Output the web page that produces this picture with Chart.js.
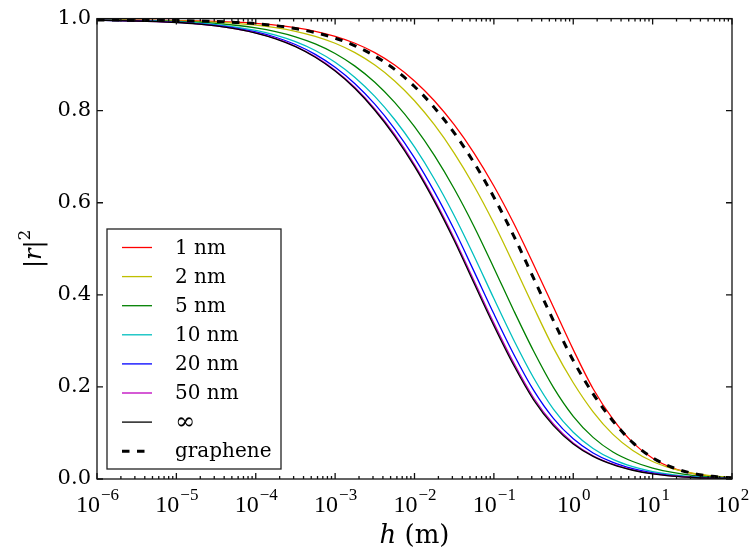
<!DOCTYPE html>
<html>
<head>
<meta charset="utf-8">
<script src="https://cdn.jsdelivr.net/npm/chart.js@4/dist/chart.umd.min.js"></script>
<style>
  html, body { margin: 0; padding: 0; background: #fff; }
  #c { display: block; }
</style>
</head>
<body>
<canvas id="c" width="751" height="551"></canvas>
<script>
// log10(h) sample positions (h in m), quarter decades
const logH = [-6, -5.75, -5.5, -5.25, -5, -4.75, -4.5, -4.25, -4, -3.75, -3.5, -3.25, -3, -2.75, -2.5, -2.25,
  -2, -1.75, -1.5, -1.25, -1, -0.75, -0.5, -0.25, 0, 0.25, 0.5, 0.75, 1, 1.25, 1.5, 1.75, 2];

// |r|^2
const r1nm = [0.9971, 0.9969, 0.9966, 0.9963, 0.9958, 0.9952, 0.9941, 0.9924, 0.9898, 0.9860, 0.9804, 0.9725, 0.9615, 0.9465, 0.9261, 0.8992,
  0.8647, 0.8217, 0.7696, 0.7080, 0.6364, 0.5554, 0.4659, 0.3735, 0.2810, 0.1960, 0.1300, 0.0790, 0.0450, 0.0240, 0.0120, 0.0055, 0.0022];
const r2nm = [0.9969, 0.9966, 0.9963, 0.9958, 0.9952, 0.9941, 0.9924, 0.9898, 0.9860, 0.9804, 0.9725, 0.9615, 0.9465, 0.9261, 0.8992, 0.8647,
  0.8217, 0.7696, 0.7080, 0.6364, 0.5554, 0.4659, 0.3735, 0.2848, 0.2090, 0.1460, 0.0970, 0.0620, 0.0380, 0.0225, 0.0125, 0.0067, 0.0035];
const r5nm = [0.9966, 0.9962, 0.9958, 0.9951, 0.9940, 0.9922, 0.9896, 0.9856, 0.9798, 0.9717, 0.9605, 0.9451, 0.9243, 0.8968, 0.8617, 0.8179,
  0.7652, 0.7028, 0.6304, 0.5486, 0.4585, 0.3661, 0.2780, 0.1990, 0.1362, 0.0904, 0.0587, 0.0380, 0.0238, 0.0142, 0.0080, 0.0043, 0.0023];
const r10nm = [0.9964, 0.9959, 0.9953, 0.9943, 0.9928, 0.9904, 0.9869, 0.9817, 0.9743, 0.9640, 0.9499, 0.9307, 0.9052, 0.8723, 0.8311, 0.7808,
  0.7212, 0.6516, 0.5724, 0.4845, 0.3919, 0.3020, 0.2200, 0.1518, 0.1016, 0.0663, 0.0425, 0.0267, 0.0161, 0.0093, 0.0052, 0.0027, 0.0014];
const r20nm = [0.9962, 0.9957, 0.9950, 0.9939, 0.9921, 0.9893, 0.9853, 0.9793, 0.9710, 0.9595, 0.9438, 0.9224, 0.8944, 0.8586, 0.8142, 0.7607,
  0.6975, 0.6243, 0.5418, 0.4510, 0.3588, 0.2711, 0.1930, 0.1317, 0.0872, 0.0566, 0.0360, 0.0224, 0.0132, 0.0075, 0.0041, 0.0021, 0.0011];
const r50nm = [0.9961, 0.9956, 0.9948, 0.9936, 0.9916, 0.9887, 0.9843, 0.9779, 0.9690, 0.9568, 0.9400, 0.9174, 0.8878, 0.8503, 0.8038, 0.7484,
  0.6830, 0.6076, 0.5231, 0.4306, 0.3385, 0.2522, 0.1765, 0.1194, 0.0784, 0.0506, 0.0321, 0.0197, 0.0115, 0.0065, 0.0035, 0.0018, 0.0009];
const rInf = [0.9961, 0.9956, 0.9948, 0.9935, 0.9915, 0.9885, 0.9840, 0.9775, 0.9685, 0.9560, 0.9390, 0.9160, 0.8860, 0.8480, 0.8010, 0.7450,
  0.6790, 0.6030, 0.5180, 0.4250, 0.3330, 0.2470, 0.1720, 0.1160, 0.0760, 0.0490, 0.0310, 0.0190, 0.0110, 0.0062, 0.0033, 0.0017, 0.0009];
const rGraphene = [0.9970, 0.9968, 0.9965, 0.9961, 0.9957, 0.9949, 0.9937, 0.9917, 0.9889, 0.9845, 0.9783, 0.9696, 0.9575, 0.9410, 0.9188, 0.8896,
  0.8526, 0.8066, 0.7517, 0.6869, 0.6121, 0.5282, 0.4362, 0.3440, 0.2573, 0.1850, 0.1260, 0.0790, 0.0460, 0.0250, 0.0125, 0.0058, 0.0025];

const seriesNames = ['1 nm', '2 nm', '5 nm', '10 nm', '20 nm', '50 nm', '\u221e', 'graphene'];
const seriesData = [r1nm, r2nm, r5nm, r10nm, r20nm, r50nm, rInf, rGraphene];
const seriesColors = ['#ff0000', '#bfbf00', '#008000', '#00bfbf', '#0000ff', '#bf00bf', '#000000', '#000000'];

const xDecades = [-6, -5, -4, -3, -2, -1, 0, 1, 2];
const yTicks = [0, 0.2, 0.4, 0.6, 0.8, 1.0];

const SERIF = '"DejaVu Serif", serif';
const MATH = '"Liberation Serif", serif';

const datasets = seriesData.map((vals, i) => {
  const dashed = seriesNames[i] === 'graphene';
  return {
    label: seriesNames[i],
    data: logH.map((L, j) => ({ x: Math.pow(10, L), y: vals[j] })),
    borderColor: seriesColors[i],
    borderWidth: dashed ? 3 : 1.3,
    borderDash: dashed ? [7.5, 7.5] : [],
    borderCapStyle: 'butt',
    pointRadius: 0,
    fill: false,
    cubicInterpolationMode: 'monotone',
    order: seriesData.length - i   // later series on top, like the original
  };
});

// frame, inward ticks, x tick labels, axis titles and legend
const decorations = {
  id: 'decorations',
  afterDraw(chart) {
    const ctx = chart.ctx, a = chart.chartArea;
    const sx = chart.scales.x, sy = chart.scales.y;
    ctx.save();
    ctx.strokeStyle = '#111'; ctx.lineWidth = 1.3; ctx.setLineDash([]);
    ctx.strokeRect(a.left, a.top, a.right - a.left, a.bottom - a.top);

    // x ticks (major + minor), top and bottom; y ticks left and right
    ctx.beginPath();
    xDecades.forEach(d => {
      const px = sx.getPixelForValue(Math.pow(10, d));
      ctx.moveTo(px, a.bottom); ctx.lineTo(px, a.bottom - 6);
      ctx.moveTo(px, a.top); ctx.lineTo(px, a.top + 6);
      if (d < 2) {
        for (let k = 2; k < 10; k++) {
          const pm = sx.getPixelForValue(k * Math.pow(10, d));
          ctx.moveTo(pm, a.bottom); ctx.lineTo(pm, a.bottom - 3);
          ctx.moveTo(pm, a.top); ctx.lineTo(pm, a.top + 3);
        }
      }
    });
    yTicks.forEach(v => {
      const py = sy.getPixelForValue(v);
      ctx.moveTo(a.left, py); ctx.lineTo(a.left + 6, py);
      ctx.moveTo(a.right, py); ctx.lineTo(a.right - 6, py);
    });
    ctx.stroke();

    // x tick labels 10^n
    ctx.fillStyle = '#000'; ctx.textBaseline = 'alphabetic'; ctx.textAlign = 'left';
    xDecades.forEach(d => {
      const px = sx.getPixelForValue(Math.pow(10, d));
      const exp = (d < 0 ? '\u2212' : '') + Math.abs(d);
      ctx.font = '24px ' + MATH; const wb = ctx.measureText('10').width;
      ctx.font = '17px ' + MATH; const we = ctx.measureText(exp).width;
      const x0 = px - (wb + we) / 2;
      ctx.font = '24px ' + MATH; ctx.fillText('10', x0, 512);
      ctx.font = '17px ' + MATH; ctx.fillText(exp, x0 + wb + 1, 500);
    });

    // x title: h (m)
    ctx.font = 'italic 26px ' + SERIF; const wh = ctx.measureText('h').width;
    ctx.font = '26px ' + SERIF; const wm = ctx.measureText(' (m)').width;
    const cx = (a.left + a.right) / 2, tx = cx - (wh + wm) / 2;
    ctx.font = 'italic 26px ' + SERIF; ctx.fillText('h', tx, 543);
    ctx.font = '26px ' + SERIF; ctx.fillText(' (m)', tx + wh, 543);

    // y title: |r|^2
    ctx.save();
    ctx.translate(41, (a.top + a.bottom) / 2); ctx.rotate(-Math.PI / 2);
    ctx.font = '24px ' + SERIF; const wbar = ctx.measureText('|').width;
    ctx.font = 'italic 24px ' + SERIF; const wr = ctx.measureText('r').width;
    ctx.font = '17px ' + SERIF; const w2 = ctx.measureText('2').width;
    let ux = -(2 * wbar + wr + w2) / 2;
    ctx.font = '24px ' + SERIF; ctx.fillText('|', ux, 0); ux += wbar;
    ctx.font = 'italic 24px ' + SERIF; ctx.fillText('r', ux, 0); ux += wr;
    ctx.font = '24px ' + SERIF; ctx.fillText('|', ux, 0); ux += wbar;
    ctx.font = '17px ' + SERIF; ctx.fillText('2', ux, -11);
    ctx.restore();

    // legend
    const lx = 107, ly = 229, lw = 174, lh = 240;
    ctx.fillStyle = '#fff'; ctx.fillRect(lx, ly, lw, lh);
    ctx.strokeStyle = '#222'; ctx.lineWidth = 1.3; ctx.strokeRect(lx, ly, lw, lh);
    ctx.textBaseline = 'middle';
    chart.data.datasets.forEach((ds, i) => {
      const y = 247.5 + i * 29.1;
      ctx.strokeStyle = ds.borderColor; ctx.lineWidth = ds.borderWidth;
      ctx.setLineDash(ds.borderDash); ctx.lineCap = 'butt';
      ctx.beginPath(); ctx.moveTo(122, y); ctx.lineTo(152, y); ctx.stroke();
      ctx.setLineDash([]);
      ctx.fillStyle = '#000';
      ctx.font = (ds.label === '\u221e' ? '24px ' : '20px ') + SERIF;
      ctx.fillText(ds.label, 175, y + 1);
    });
    ctx.restore();
  }
};

new Chart(document.getElementById('c'), {
  type: 'line',
  data: { datasets },
  options: {
    responsive: false,
    animation: false,
    devicePixelRatio: 1,
    layout: { padding: { top: 18, right: 19, left: 0, bottom: 0 } },
    plugins: { legend: { display: false }, tooltip: { enabled: false } },
    scales: {
      x: {
        type: 'logarithmic', min: 1e-6, max: 1e2,
        grid: { display: false, drawTicks: false }, border: { display: false },
        ticks: { display: false },
        afterFit(s) { s.height = 72; }
      },
      y: {
        type: 'linear', min: 0, max: 1,
        grid: { display: false, drawTicks: false }, border: { display: false },
        ticks: {
          stepSize: 0.2, padding: 6, color: '#000',
          font: { family: '"DejaVu Serif"', size: 21 },
          callback: v => Number(v).toFixed(1)
        },
        afterFit(s) { s.width = 97; }
      }
    }
  },
  plugins: [decorations]
});
</script>
</body>
</html>
